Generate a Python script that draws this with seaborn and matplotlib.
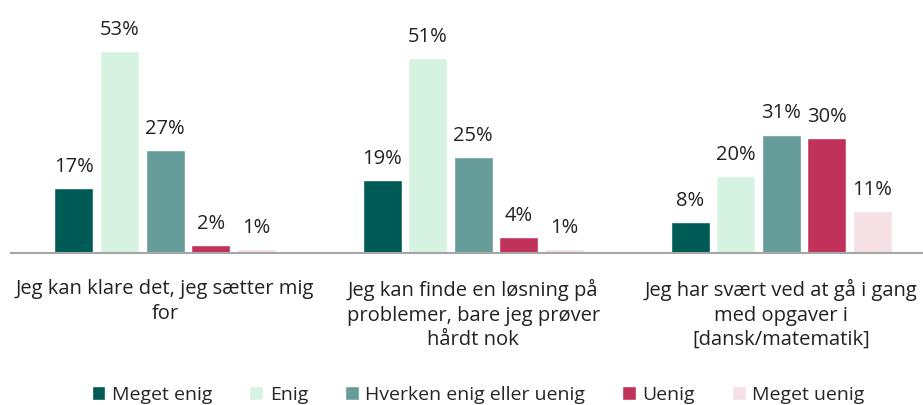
import pandas as pd
import numpy as np
import matplotlib
matplotlib.use("Agg")
from matplotlib import pyplot as plt
import seaborn as sns

statements = ["Jeg kan klare det, jeg sætter mig\nfor",
              "Jeg kan finde en løsning på\nproblemer, bare jeg prøver\nhårdt nok",
              "Jeg har svært ved at gå i gang\nmed opgaver i\n[dansk/matematik]"]
answers = ["Meget enig", "Enig", "Hverken enig eller uenig", "Uenig", "Meget uenig"]
meget_enig = [17, 19, 8]
enig = [53, 51, 20]
hverken = [27, 25, 31]
uenig = [2, 4, 30]
meget_uenig = [1, 1, 11]
colors = ["#005A55", "#D6F3E2", "#669D9B", "#C0325A", "#F5E0E6"]

rows = []
for ans, vals in zip(answers, [meget_enig, enig, hverken, uenig, meget_uenig]):
    for st, v in zip(statements, vals):
        rows.append({"Udsagn": st, "Svar": ans, "Pct": v})
df = pd.DataFrame(rows)

sns.set_style("white")
plt.rcParams['font.family'] = ['Open Sans', 'DejaVu Sans']

fig = plt.figure(figsize=(9.23, 4.05), dpi=100)
ax = fig.add_axes([11 / 923, 0.376, 912 / 923, 0.56])
ax = sns.barplot(data=df, x="Udsagn", y="Pct", hue="Svar", hue_order=answers,
                 order=statements, palette=colors, width=0.739, gap=0.143,
                 saturation=1, ax=ax, legend=True)

for cont in ax.containers:
    ax.bar_label(cont, labels=[f"{int(v)}%" for v in cont.datavalues],
                 padding=8, fontsize=14.5, color="#222222")

ax.set_ylim(0, 59.5)
ax.set_xlim(-0.5, 2.46)
ax.set(xlabel="", ylabel="")
ax.set_yticks([])
for s in ["top", "right", "left"]:
    ax.spines[s].set_visible(False)
ax.spines["bottom"].set_color("#A6A6A6")
ax.spines["bottom"].set_linewidth(1.5)
ax.tick_params(axis="x", length=0, pad=19, labelsize=14.5, labelcolor="#222222")
for lbl in ax.get_xticklabels():
    lbl.set_linespacing(1.3)
    lbl.set_verticalalignment("top")

handles, labels = ax.get_legend_handles_labels()
ax.legend_.remove()
fig.legend(handles, labels, loc="lower center", bbox_to_anchor=(0.518, -0.04),
           ncol=5, frameon=False, fontsize=14, handlelength=0.7, handleheight=0.7,
           handletextpad=0.35, columnspacing=1.9)

fig.savefig("out.png", dpi=100)
